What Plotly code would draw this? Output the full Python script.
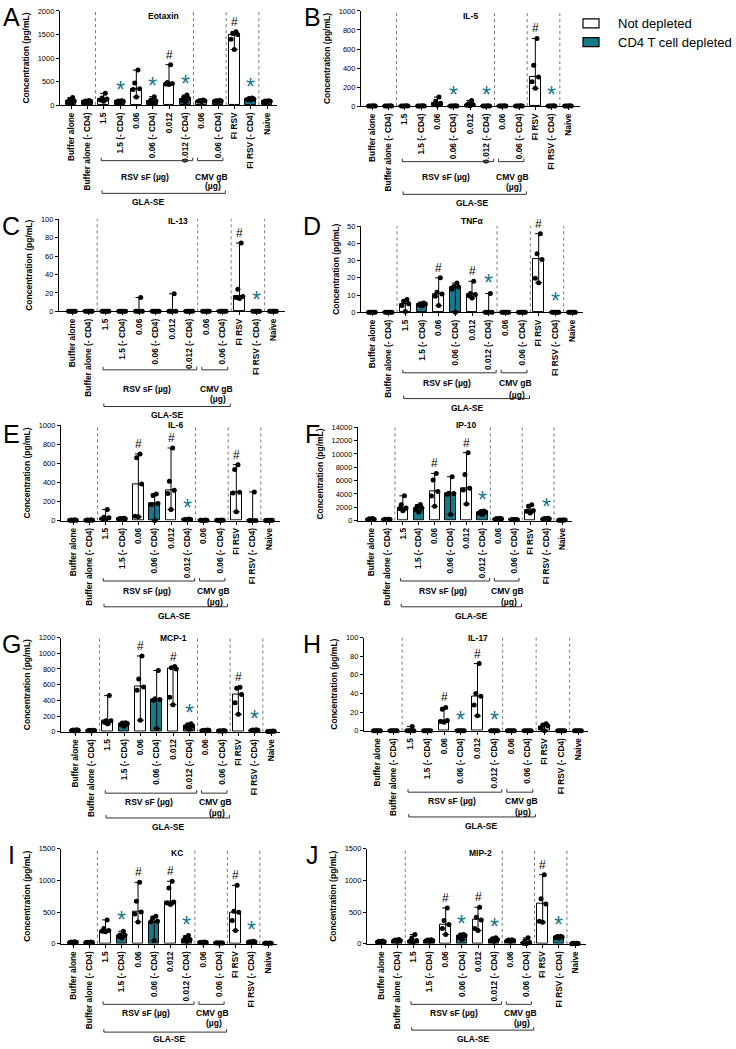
import numpy as np
import plotly.graph_objects as go

W, H = 736, 1049
FONT = "Liberation Sans"
TEAL = "#16798c"
SEP = "#777777"
BRK = "#333333"

# ---------------- data ----------------
CATEGORIES = ["Buffer alone", "Buffer alone (- CD4)", "1.5", "1.5 (- CD4)", "0.06",
              "0.06 (- CD4)", "0.012", "0.012 (- CD4)", "0.06", "0.06 (- CD4)",
              "FI RSV", "FI RSV (- CD4)", "Naive"]
GROUP_KIND = ["Not depleted", "CD4 T cell depleted"] * 6 + ["Not depleted"]

TITLES = ["Eotaxin", "IL-5", "IL-13", "TNFα", "IL-6", "IP-10", "MCP-1", "IL-17", "KC", "MIP-2"]
LETTERS = ["A", "B", "C", "D", "E", "F", "G", "H", "I", "J"]
Y_MAX = [2000, 1000, 100, 50, 1000, 14000, 1200, 100, 1500, 1500]
Y_STEP = [500, 200, 20, 10, 200, 2000, 200, 20, 500, 500]

EOTAXIN = [
    [40, 70, 90, 110, 160], [60, 70, 80, 90, 100], [80, 110, 130, 150, 250],
    [60, 70, 80, 85, 95], [175, 330, 350, 470, 745], [40, 70, 90, 110, 180],
    [440, 450, 460, 480, 860], [60, 100, 140, 160, 215], [70, 80, 90, 100, 110],
    [70, 80, 90, 95, 105], [1180, 1400, 1500, 1520, 1560], [110, 120, 130, 140, 150],
    [60, 70, 80, 85, 95]]
IL5 = [
    [0, 0, 1, 2, 3], [0, 0, 1, 2, 3], [0, 0, 1, 2, 3], [0, 0, 1, 2, 3],
    [10, 20, 30, 50, 95], [0, 0, 1, 2, 3], [5, 10, 15, 25, 60], [0, 0, 1, 2, 3],
    [0, 0, 1, 2, 3], [0, 0, 1, 2, 3], [187, 257, 306, 430, 711], [0, 0, 1, 2, 3],
    [0, 0, 1, 2, 3]]
IL13 = [
    [0, 0, 0, 0, 0], [0, 0, 0, 0, 0], [0, 0, 0, 0, 0], [0, 0, 0, 0, 0],
    [0, 0, 0, 0, 15], [0, 0, 0, 0, 0], [0, 0, 0, 0, 19], [0, 0, 0, 0, 0],
    [0, 0, 0, 0, 0], [0, 0, 0, 0, 0], [14, 15, 16, 24, 74], [0, 0, 0, 0, 0],
    [0, 0, 0, 0, 0]]
TNFA = [
    [0, 0, 0, 0, 0], [0, 0, 0, 0, 0], [0.5, 3.9, 5.0, 6.4, 7.4],
    [3.8, 4.3, 4.8, 5.0, 5.4], [3.9, 9.3, 10.7, 11.6, 20], [0, 13.5, 14.7, 15, 17],
    [8.3, 9.7, 10.3, 10.9, 18], [0, 0, 0, 0, 10.9], [0, 0, 0, 0, 0],
    [0, 0, 0, 0, 0], [17.2, 19.7, 30.6, 34, 45.6], [0, 0, 0, 0, 0],
    [0, 0, 0, 0, 0]]
IL6 = [
    [0, 2, 3, 5, 8], [0, 2, 3, 5, 8], [10, 18, 28, 35, 115], [10, 15, 18, 20, 25],
    [40, 45, 385, 660, 700], [0, 168, 178, 262, 280], [115, 283, 318, 412, 762],
    [5, 8, 10, 12, 15], [0, 2, 3, 4, 5], [0, 2, 3, 4, 5], [91, 290, 297, 535, 587],
    [0, 0, 0, 0, 300], [0, 1, 2, 3, 4]]
IP10 = [
    [100, 150, 200, 250, 300], [100, 130, 160, 180, 200], [1480, 1800, 1880, 2380, 3710],
    [1300, 1700, 1900, 2100, 2400], [2130, 3700, 4360, 6090, 7080],
    [890, 3950, 4050, 4110, 6580], [2480, 4600, 4850, 6930, 10200],
    [900, 1100, 1290, 1350, 1450], [150, 200, 250, 300, 350], [80, 100, 120, 140, 160],
    [1140, 1390, 1490, 2130, 2380], [150, 200, 250, 300, 350], [50, 60, 70, 80, 90]]
MCP1 = [
    [10, 15, 20, 22, 25], [10, 12, 15, 18, 20], [97, 120, 138, 140, 460],
    [70, 90, 105, 110, 115], [147, 528, 570, 671, 965], [42, 400, 411, 420, 780],
    [345, 440, 800, 815, 830], [30, 60, 75, 90, 100], [10, 15, 18, 20, 22],
    [5, 8, 10, 12, 14], [222, 370, 474, 555, 565], [10, 15, 20, 22, 25],
    [2, 3, 5, 6, 8]]
IL17 = [
    [0, 0, 0, 0, 0], [0, 0, 0, 0, 0], [0, 0, 0, 0, 4.6], [0, 0, 0, 0, 0],
    [9, 10, 11, 23, 25], [0, 0, 0, 0, 0], [16, 27.5, 37, 40, 72], [0, 0, 0, 0, 0],
    [0, 0, 0, 0, 0], [0, 0, 0, 0, 0], [0, 3, 5, 6, 7.5], [0, 0, 0, 0, 0],
    [0, 0, 0, 0, 0]]
KC = [
    [15, 20, 25, 30, 35], [15, 20, 22, 25, 30], [189, 199, 210, 241, 378],
    [94, 120, 136, 140, 199], [346, 472, 503, 671, 970], [52, 350, 357, 409, 435],
    [619, 645, 661, 881, 986], [42, 52, 68, 94, 131], [15, 20, 22, 25, 28],
    [10, 12, 14, 16, 18], [210, 367, 498, 514, 923], [20, 25, 30, 35, 40],
    [5, 8, 10, 12, 15]]
MIP2 = [
    [20, 30, 35, 40, 45], [40, 50, 55, 60, 70], [26, 42, 52, 94, 147],
    [40, 50, 55, 60, 65], [147, 241, 304, 367, 566], [68, 100, 131, 140, 147],
    [210, 241, 378, 420, 577], [40, 55, 68, 80, 95], [40, 50, 55, 60, 65],
    [0, 10, 20, 50, 95], [341, 356, 629, 713, 1090], [90, 100, 110, 115, 120],
    [0, 2, 5, 8, 10]]

PANEL_DATA = [EOTAXIN, IL5, IL13, TNFA, IL6, IP10, MCP1, IL17, KC, MIP2]

HASH_MARKS = [[6, 10], [10], [10], [4, 6, 10], [4, 6, 10], [4, 6], [4, 6, 10], [4, 6],
              [4, 6, 10], [4, 6, 10]]
STAR_MARKS = [[3, 5, 7, 11], [5, 7, 11], [11], [7, 11], [7], [7, 11], [7, 11], [5, 7],
              [3, 7, 11], [5, 7, 11]]

# ---------------- layout geometry (pixels) ----------------
# left, first category, last category, right, top, bottom
GEOM = [
    (60, 71, 267, 277, 7, 102), (361, 372, 568, 580, 7, 103),
    (59, 72, 273, 285, 217, 310), (361, 372, 572, 583, 224, 311),
    (61, 73, 269, 280, 425, 521), (358, 371, 562, 572, 427, 521),
    (61, 75, 271, 280, 639, 734), (364, 377, 578, 588, 639, 733),
    (61, 73, 268, 277, 852, 948), (367, 381, 575, 586, 852, 948)]
# offsets below axis: RSV bracket, RSV text, (ug) text, GLA bracket, GLA text
BR_OFF = [(56, 72, 82, 89, 98), (56, 72, 82, 89, 98), (59, 78, 88, 96, 105),
          (61, 71, 83, 87, 97), (61, 71, 82, 87, 96), (61, 71, 82, 87, 96),
          (62, 71, 82, 87, 96), (62, 71, 82, 87, 96), (61, 70, 80, 89, 96),
          (61, 70, 80, 87, 96)]
TITLE_X = [5.65, 6.0, 6.3, 6.0, 6.25, 6.0, 6.0, 6.0, 6.4, 6.15]
ROW_TITLE_Y = [12, 219, 425, 639, 856]
GLA_X = [4.7, 6.1, 5.7, 5.7, 6.2, 6.3, 5.7, 6.2, 5.9, 5.7]
LETTER_Y = [13, 224, 434, 646, 858]
OFFS = [0.0, -0.2, 0.2, -0.1, 0.1]


def py(y):
    return 1 - y / H


def px(x):
    return x / W


fig = go.Figure()
shapes = []
annotations = []
layout = {}
kind_color = {"Not depleted": "white", "CD4 T cell depleted": TEAL}
colors = [kind_color[k] for k in GROUP_KIND]

for k, data in enumerate(PANEL_DATA):
    sfx = "" if k == 0 else str(k + 1)
    xid, yid = "x" + sfx, "y" + sfx
    left, first, last, right, top, bottom = GEOM[k]
    sp = (last - first) / 12.0
    xr = [-(first - left) / sp, 12 + (right - last) / sp]
    arr = [np.array(g, dtype=float) for g in data]
    med = np.array([np.median(a) for a in arr])
    mx = np.array([a.max() for a in arr])
    mn = np.array([a.min() for a in arr])
    xs = list(range(13))

    fig.add_trace(go.Bar(
        x=xs, y=med, width=0.64, xaxis=xid, yaxis=yid, showlegend=False,
        marker=dict(color=colors, line=dict(color="black", width=1)),
        error_y=dict(type="data", symmetric=False, array=mx - med, arrayminus=med - mn,
                     color="black", thickness=1, width=3.5),
        cliponaxis=False, hoverinfo="skip"))
    dx, dy = [], []
    for i, a in enumerate(arr):
        for j, v in enumerate(a):
            dx.append(i + OFFS[j])
            dy.append(v)
    fig.add_trace(go.Scatter(
        x=dx, y=dy, mode="markers", xaxis=xid, yaxis=yid, showlegend=False,
        marker=dict(color="black", size=5), cliponaxis=False, hoverinfo="skip"))

    layout["xaxis" + sfx] = dict(
        domain=[px(left), px(right)], range=xr, anchor=yid,
        tickvals=xs, ticktext=CATEGORIES, tickangle=-90,
        tickfont=dict(family=FONT, size=8.3, color="black", weight="bold"),
        ticks="outside", ticklen=3, tickwidth=1, tickcolor="black",
        showline=True, linecolor="black", linewidth=1.2, showgrid=False,
        zeroline=False, fixedrange=True)
    layout["yaxis" + sfx] = dict(
        domain=[py(bottom), py(top)], range=[0, Y_MAX[k]], anchor=xid,
        tickvals=list(np.arange(0, Y_MAX[k] + 1, Y_STEP[k])), tickformat="d",
        tickfont=dict(family=FONT, size=7.5, color="black"),
        ticks="outside", ticklen=3, tickwidth=1, tickcolor="black",
        showline=True, linecolor="black", linewidth=1.2, showgrid=False,
        zeroline=False, fixedrange=True,
        title=dict(text="Concentration (pg/mL)", standoff=6,
                   font=dict(family=FONT, size=8.5, color="black", weight="bold")))

    # dotted separators
    for xv in (1.5, 7.5, 9.5, 11.5):
        shapes.append(dict(type="line", xref=xid, yref=yid + " domain", x0=xv, x1=xv,
                           y0=0, y1=1, line=dict(color=SEP, width=1, dash="dot")))

    # brackets
    o = BR_OFF[k]

    def bracket(x0, x1, yp):
        yb = py(bottom + yp)
        yt = py(bottom + yp - 3)
        shapes.append(dict(type="line", xref=xid, yref="paper", x0=x0, x1=x1, y0=yb, y1=yb,
                           line=dict(color=BRK, width=1)))
        for xv in (x0, x1):
            shapes.append(dict(type="line", xref=xid, yref="paper", x0=xv, x1=xv, y0=yb, y1=yt,
                               line=dict(color=BRK, width=1)))
    bracket(1.85, 7.45, o[0])
    bracket(7.75, 9.3, o[0])
    bracket(1.9, 9.45, o[3])
    tf = dict(family=FONT, size=8.5, color="black", weight="bold")
    for txt, xv, yp in (("RSV sF (µg)", 4.5, o[1]), ("CMV gB", 8.6, o[1]),
                        ("(µg)", 8.7, o[2]), ("GLA-SE", GLA_X[k], o[4])):
        annotations.append(dict(text=txt, x=xv, y=py(bottom + yp), xref=xid, yref="paper",
                                showarrow=False, xanchor="center", yanchor="middle", font=tf))

    # panel title and letter
    annotations.append(dict(text=TITLES[k], x=TITLE_X[k], y=py(ROW_TITLE_Y[k // 2]),
                            xref=xid, yref="paper", showarrow=False, yanchor="middle",
                            font=tf))
    annotations.append(dict(text=LETTERS[k], x=px(11 if k % 2 == 0 else 312),
                            y=py(LETTER_Y[k // 2]), xref="paper", yref="paper",
                            showarrow=False, xanchor="center", yanchor="middle",
                            font=dict(family=FONT, size=25, color="black")))

    # significance marks
    for i in HASH_MARKS[k]:
        annotations.append(dict(text="#", x=i, y=mx[i], xref=xid, yref=yid, showarrow=False,
                                yanchor="bottom", yshift=1,
                                font=dict(family=FONT, size=12, color="black")))
    for i in STAR_MARKS[k]:
        annotations.append(dict(text="*", x=i, y=mx[i], xref=xid, yref=yid, showarrow=False,
                                yanchor="bottom", yshift=-4,
                                font=dict(family=FONT, size=23, color=TEAL)))

# legend
for yc, col, lab in ((19.5, "white", "Not depleted"), (38.5, TEAL, "CD4 T cell depleted")):
    shapes.append(dict(type="rect", xref="paper", yref="paper", x0=px(583), x1=px(599),
                       y0=py(yc + 4.5), y1=py(yc - 4.5), fillcolor=col,
                       line=dict(color="black", width=1.2)))
    annotations.append(dict(text=lab, x=px(616), y=py(yc), xref="paper", yref="paper",
                            showarrow=False, xanchor="left", yanchor="middle",
                            font=dict(family=FONT, size=13, color="black")))

fig.update_layout(
    width=W, height=H, margin=dict(l=0, r=0, t=0, b=0),
    paper_bgcolor="white", plot_bgcolor="white", showlegend=False,
    font=dict(family=FONT), shapes=shapes, annotations=annotations, bargap=0, **layout)

fig.write_html("out.html", config={"displayModeBar": False},
               post_script="document.body.style.margin='0';")
